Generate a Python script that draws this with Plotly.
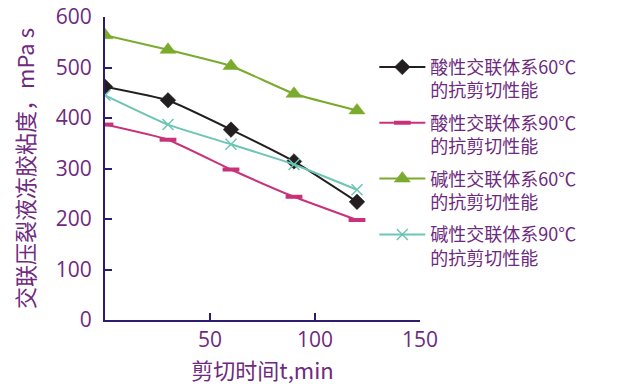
import plotly.graph_objects as go

shear_time = [0, 30, 60, 90, 120]
acid_60 = [462, 435, 377, 314, 234]
acid_90 = [387, 357, 298, 244, 198]
base_60 = [564, 535, 503, 448, 415]
base_90 = [445, 387, 348, 308, 258]

names = [
    "酸性交联体系60℃<br>的抗剪切性能",
    "酸性交联体系90℃<br>的抗剪切性能",
    "碱性交联体系60℃<br>的抗剪切性能",
    "碱性交联体系90℃<br>的抗剪切性能",
]
series = [acid_60, acid_90, base_60, base_90]
colors = ["#231f20", "#c8327a", "#7aab2c", "#6cc5b5"]
symbols = ["diamond", "line-ew", "triangle-up", "x-thin"]
msizes = [12, 12, 14, 11]

purple = "#6e2a7e"
axis_col = "#2e1a6e"

fig = go.Figure()
for i, (nm, ys, c, s, ms) in enumerate(zip(names, series, colors, symbols, msizes)):
    marker = dict(symbol=s, size=ms, color=c, line=dict(color=c, width=4 if s == "line-ew" else (1.5 if s == "x-thin" else 0.5)))
    fig.add_trace(go.Scatter(
        x=shear_time, y=ys, name=nm, mode="lines+markers", legendgroup=f"g{i}",
        line=dict(color=c, width=2, shape="spline", smoothing=0.4),
        marker=marker,
    ))

fig.update_layout(
    width=642, height=386,
    margin=dict(l=105, r=222, t=17, b=66, autoexpand=False),
    paper_bgcolor="white", plot_bgcolor="white",
    font=dict(family="Noto Sans CJK SC", color=purple),
    showlegend=True,
    legend=dict(
        x=0.855, y=0.895, xanchor="left", yanchor="top",
        font=dict(size=18, color=purple, family="Noto Sans CJK SC"),
        valign="top", tracegroupgap=6, itemwidth=46,
        bgcolor="rgba(0,0,0,0)",
    ),
    xaxis=dict(
        range=[0, 150], tickvals=[50, 100, 150], ticktext=["50", "100", "150"],
        automargin=False, ticklabeloverflow="allow",
        showgrid=False, zeroline=False, showline=True, linecolor=axis_col, linewidth=2,
        ticks="inside", ticklen=7, tickcolor=axis_col, tickwidth=2,
        tickfont=dict(size=21, family="Open Sans", color=purple),
        title=dict(text="剪切时间t,min", font=dict(size=22, color=purple), standoff=6),
    ),
    yaxis=dict(
        range=[0, 600], tickvals=[0, 100, 200, 300, 400, 500, 600],
        automargin=False, ticklabelstandoff=7, ticklabeloverflow="allow",
        showgrid=False, zeroline=False, showline=True, linecolor=axis_col, linewidth=2,
        ticks="inside", ticklen=7, tickcolor=axis_col, tickwidth=2,
        tickfont=dict(size=21, family="Open Sans", color=purple),
        title=dict(text="交联压裂液冻胶粘度，mPa s", font=dict(size=22, color=purple), standoff=15),
    ),
)

# remove the browser's default page margin so the figure fills the window
fig.write_html("out.html", config={"displayModeBar": False},
               post_script="document.body.style.margin='0';")
